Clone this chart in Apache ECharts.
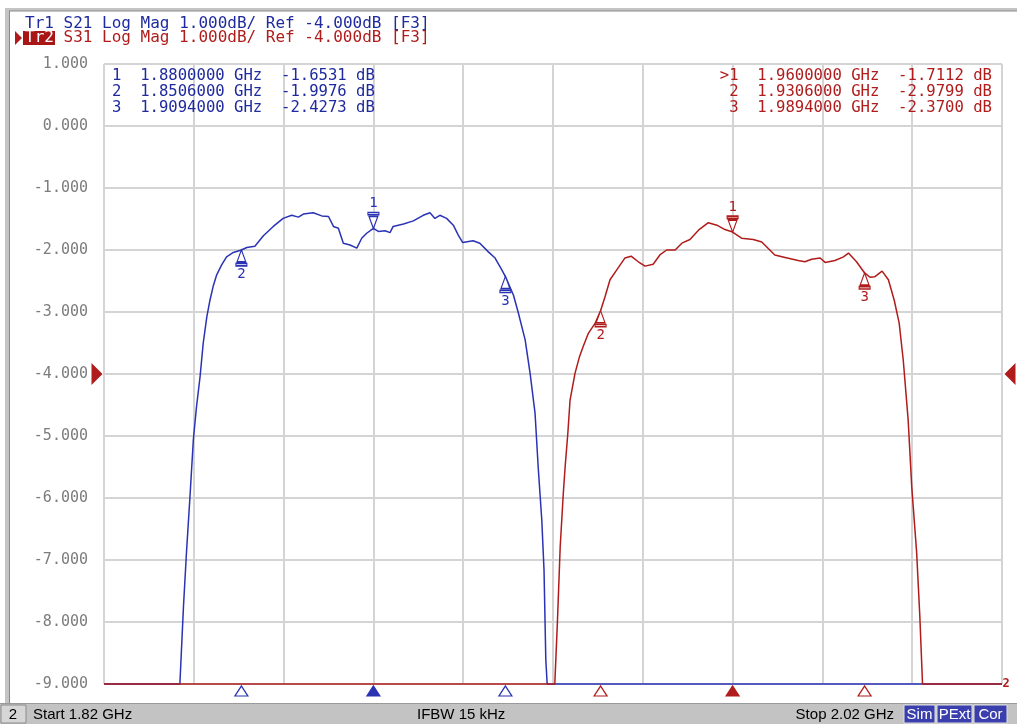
<!DOCTYPE html>
<html>
<head>
<meta charset="utf-8">
<title>S21 / S31 Log Mag</title>
<script src="https://cdn.jsdelivr.net/npm/echarts@6/dist/echarts.min.js"></script>
<style>
html, body { margin: 0; padding: 0; background: #fff; }
#chart { width: 1017px; height: 724px; }
</style>
</head>
<body>
<div id="chart"></div>
<script>
// sweep + scale
var startGHz = 1.82;
var stopGHz = 2.02;
var refLevel = -4;
var yTicks = [1, 0, -1, -2, -3, -4, -5, -6, -7, -8, -9];

// Tr1 S21 (values below -9 dB sit on the bottom edge, as the analyzer draws them)
var s21Freq = [1.8200, 1.8369, 1.8377, 1.8384, 1.8392, 1.8399, 1.8406, 1.8414, 1.8421, 1.8429, 1.8436,
  1.8443, 1.8451, 1.8462, 1.8473, 1.8488, 1.8506, 1.8518, 1.8536, 1.8555, 1.8577, 1.8599, 1.8618,
  1.8633, 1.8644, 1.8666, 1.8685, 1.8700, 1.8711, 1.8722, 1.8733, 1.8748, 1.8763, 1.8774, 1.8785,
  1.8800, 1.8811, 1.8826, 1.8837, 1.8844, 1.8867, 1.8889, 1.8911, 1.8926, 1.8937, 1.8948, 1.8963,
  1.8978, 1.8989, 1.8999, 1.9022, 1.9037, 1.9056, 1.9071, 1.9086, 1.9094, 1.9112, 1.9123, 1.9138,
  1.9149, 1.9160, 1.9167, 1.9175, 1.9180, 1.9184, 1.9187, 2.0200];
var s21Db = [-9, -9, -7.75, -6.84, -5.92, -5.06, -4.53, -4.04, -3.50, -3.08, -2.81,
  -2.59, -2.40, -2.24, -2.11, -2.04, -2.00, -1.96, -1.94, -1.77, -1.62, -1.49, -1.44,
  -1.47, -1.42, -1.40, -1.45, -1.46, -1.62, -1.65, -1.89, -1.92, -1.97, -1.81, -1.73,
  -1.65, -1.70, -1.69, -1.72, -1.62, -1.58, -1.53, -1.44, -1.40, -1.49, -1.44, -1.49,
  -1.60, -1.76, -1.88, -1.85, -1.89, -2.03, -2.13, -2.32, -2.43, -2.73, -3.02, -3.45,
  -3.99, -4.63, -5.50, -6.35, -7.16, -8.61, -9, -9];

// Tr2 S31
var s31Freq = [1.8200, 1.9204, 1.9210, 1.9216, 1.9223, 1.9227, 1.9233, 1.9238, 1.9249, 1.9259, 1.9267,
  1.9279, 1.9294, 1.9306, 1.9316, 1.9327, 1.9342, 1.9360, 1.9374, 1.9390, 1.9405, 1.9423, 1.9438,
  1.9453, 1.9472, 1.9487, 1.9505, 1.9524, 1.9546, 1.9565, 1.9583, 1.9600, 1.9620, 1.9646, 1.9665,
  1.9694, 1.9717, 1.9746, 1.9761, 1.9776, 1.9795, 1.9806, 1.9828, 1.9847, 1.9858, 1.9876, 1.9894,
  1.9906, 1.9917, 1.9933, 1.9947, 1.9960, 1.9971, 1.9980, 1.9991, 1.9999, 2.0010, 2.0017, 2.0023,
  2.0200];
var s31Db = [-9, -9, -7.97, -6.79, -5.92, -5.50, -4.96, -4.42, -3.99, -3.72, -3.56,
  -3.34, -3.18, -2.98, -2.75, -2.48, -2.32, -2.13, -2.10, -2.19, -2.26, -2.23, -2.08,
  -2.00, -2.00, -1.89, -1.83, -1.68, -1.56, -1.60, -1.67, -1.71, -1.81, -1.83, -1.87,
  -2.08, -2.12, -2.17, -2.19, -2.15, -2.13, -2.20, -2.17, -2.11, -2.05, -2.19, -2.37,
  -2.44, -2.43, -2.34, -2.48, -2.81, -3.18, -3.77, -4.74, -5.82, -6.89, -7.91, -9,
  -9];

// marker readouts
var s21MarkerFreq = [1.8800000, 1.8506000, 1.9094000];
var s21MarkerDb = [-1.6531, -1.9976, -2.4273];
var s31MarkerFreq = [1.9600000, 1.9306000, 1.9894000];
var s31MarkerDb = [-1.7112, -2.9799, -2.3700];

var blue = '#2a33b4';
var blueText = '#1f2a9e';
var red = '#b01c1c';
var mono = '"DejaVu Sans Mono", "Liberation Mono", monospace';
var narrow = '"Liberation Sans Narrow", "Arial Narrow", "Liberation Sans", sans-serif';

var downMark = 'path://M0,0H10V2H0Z M1,3.5H9L5,14Z';
var upMark = 'path://M5,0L9,10.5H1Z M0,12H10V14H0Z';

function zip(xs, ys) {
  var out = [];
  for (var i = 0; i < xs.length; i++) out.push([xs[i], ys[i]]);
  return out;
}

function markerPoints(freqs, dbs, color) {
  var pts = [];
  for (var i = 0; i < freqs.length; i++) {
    var first = (i === 0);
    pts.push({
      coord: [freqs[i], dbs[i]],
      symbol: first ? downMark : upMark,
      symbolSize: [11, 16],
      symbolOffset: first ? [0, -8] : [0, 8],
      itemStyle: { color: '#fff', borderColor: color, borderWidth: 1.3 },
      label: {
        show: true, position: first ? 'top' : 'bottom', distance: 1,
        formatter: String(i + 1), color: color, fontSize: 14, fontFamily: mono
      }
    });
    // stimulus marker under the axis
    pts.push({
      coord: [freqs[i], yTicks[yTicks.length - 1]],
      symbol: 'triangle',
      symbolSize: [13, 10],
      symbolOffset: [0, 7],
      itemStyle: { color: first ? color : '#fff', borderColor: color, borderWidth: 1.2 },
      label: { show: false }
    });
  }
  return pts;
}

function tableLine(idx, f, db, active, lead) {
  var prefix = lead ? (active ? '>' : ' ') : '';
  return prefix + (idx + 1) + '  ' + f.toFixed(7) + ' GHz  ' + db.toFixed(4) + ' dB';
}

var graphics = [];

// window frame
graphics.push({ type: 'rect', shape: { x: 5, y: 8, width: 1030, height: 3 }, style: { fill: '#c4c4c4' }, silent: true });
graphics.push({ type: 'rect', shape: { x: 5, y: 8, width: 4, height: 696 }, style: { fill: '#c4c4c4' }, silent: true });
graphics.push({ type: 'line', shape: { x1: 9, y1: 11, x2: 1017, y2: 11 }, style: { stroke: '#8a8a8a', lineWidth: 1 }, silent: true });
graphics.push({ type: 'line', shape: { x1: 9.5, y1: 11, x2: 9.5, y2: 703 }, style: { stroke: '#8a8a8a', lineWidth: 1 }, silent: true });

// trace header
graphics.push({ type: 'text', x: 25, y: 24, style: { text: 'Tr1 S21 Log Mag 1.000dB/ Ref -4.000dB [F3]', fill: blueText, font: '16px ' + mono, align: 'left', verticalAlign: 'middle' } });
graphics.push({ type: 'polygon', shape: { points: [[15, 31], [22, 38], [15, 45]] }, style: { fill: red } });
graphics.push({ type: 'rect', shape: { x: 23, y: 31, width: 32, height: 14 }, style: { fill: '#a81616' } });
graphics.push({ type: 'text', x: 25, y: 38, style: { text: 'Tr2', fill: '#fff', font: '16px ' + mono, align: 'left', verticalAlign: 'middle' } });
graphics.push({ type: 'text', x: 25 + 4 * 9.63, y: 38, style: { text: 'S31 Log Mag 1.000dB/ Ref -4.000dB [F3]', fill: red, font: '16px ' + mono, align: 'left', verticalAlign: 'middle' } });

// marker tables
for (var i = 0; i < 3; i++) {
  graphics.push({ type: 'text', x: 112, y: 76 + i * 16, z: 10,
    style: { text: tableLine(i, s21MarkerFreq[i], s21MarkerDb[i], false, false), fill: blueText, font: '15.6px ' + mono, align: 'left', verticalAlign: 'middle' } });
  graphics.push({ type: 'text', x: 992, y: 76 + i * 16, z: 10,
    style: { text: tableLine(i, s31MarkerFreq[i], s31MarkerDb[i], i === 0, true), fill: red, font: '15.6px ' + mono, align: 'right', verticalAlign: 'middle' } });
}

// status bar
graphics.push({ type: 'rect', shape: { x: 0, y: 703, width: 1017, height: 21 }, style: { fill: '#c3c3c3' }, silent: true });
graphics.push({ type: 'line', shape: { x1: 0, y1: 703.5, x2: 1017, y2: 703.5 }, style: { stroke: '#9a9a9a' }, silent: true });
graphics.push({ type: 'rect', shape: { x: 1, y: 705, width: 25, height: 18 }, style: { fill: '#d6d6d6', stroke: '#8c8c8c' } });
graphics.push({ type: 'text', x: 13, y: 715, style: { text: '2', fill: '#000', font: '15px ' + narrow, align: 'center', verticalAlign: 'middle' } });
graphics.push({ type: 'text', x: 33, y: 715, style: { text: 'Start ' + startGHz.toFixed(2) + ' GHz', fill: '#000', font: '15px ' + narrow, align: 'left', verticalAlign: 'middle' } });
graphics.push({ type: 'text', x: 417, y: 715, style: { text: 'IFBW 15 kHz', fill: '#000', font: '15px ' + narrow, align: 'left', verticalAlign: 'middle' } });
graphics.push({ type: 'text', x: 894, y: 715, style: { text: 'Stop ' + stopGHz.toFixed(2) + ' GHz', fill: '#000', font: '15px ' + narrow, align: 'right', verticalAlign: 'middle' } });
var flags = [['Sim', 904, 31], ['PExt', 937, 35], ['Cor', 974, 33]];
for (var j = 0; j < flags.length; j++) {
  graphics.push({ type: 'rect', shape: { x: flags[j][1], y: 705, width: flags[j][2], height: 18 }, style: { fill: '#3b3fae', stroke: '#e0e0e0' } });
  graphics.push({ type: 'text', x: flags[j][1] + flags[j][2] / 2, y: 714.5, style: { text: flags[j][0], fill: '#fff', font: '15px ' + narrow, align: 'center', verticalAlign: 'middle' } });
}

var chart = echarts.init(document.getElementById('chart'), null, { renderer: 'canvas' });

var redMarks = markerPoints(s31MarkerFreq, s31MarkerDb, red);
// reference level arrows for the active trace
redMarks.push({ coord: [startGHz, refLevel], symbol: 'triangle', symbolRotate: -90, symbolSize: [22, 11],
  symbolOffset: [-7, 0], itemStyle: { color: red }, label: { show: false } });
redMarks.push({ coord: [stopGHz, refLevel], symbol: 'triangle', symbolRotate: 90, symbolSize: [22, 11],
  symbolOffset: [8, 0], itemStyle: { color: red }, label: { show: false } });
redMarks.push({ coord: [stopGHz, yTicks[yTicks.length - 1]], symbol: 'circle', symbolSize: 1,
  itemStyle: { color: 'transparent' },
  label: { show: true, position: 'right', distance: 0, formatter: '2', color: red, fontSize: 12, fontWeight: 'bold', fontFamily: mono } });

var option = {
  animation: false,
  backgroundColor: '#fff',
  graphic: graphics,
  grid: {
    left: 104, top: 64, width: 898, height: 620,
    show: true, borderColor: '#9a9a9a', borderWidth: 1, backgroundColor: '#fff'
  },
  xAxis: {
    type: 'value', min: startGHz, max: stopGHz, interval: 0.02,
    axisLine: { show: false }, axisTick: { show: false }, axisLabel: { show: false },
    splitLine: { show: true, lineStyle: { color: '#d4d4d4', width: 2 } }
  },
  yAxis: {
    type: 'value', min: yTicks[yTicks.length - 1], max: yTicks[0], interval: 1,
    axisLine: { show: false }, axisTick: { show: false },
    axisLabel: {
      margin: 16, color: '#7c7c7c', fontSize: 15, fontFamily: mono,
      formatter: function (v) { return v.toFixed(3); }
    },
    splitLine: { show: true, lineStyle: { color: '#d4d4d4', width: 2 } }
  },
  series: [
    {
      name: 'S21', type: 'line', data: zip(s21Freq, s21Db),
      showSymbol: false, clip: false, z: 3,
      lineStyle: { color: blue, width: 1.5 },
      markPoint: { silent: true, animation: false, data: markerPoints(s21MarkerFreq, s21MarkerDb, blue) }
    },
    {
      name: 'S31', type: 'line', data: zip(s31Freq, s31Db),
      showSymbol: false, clip: false, z: 4,
      lineStyle: { color: red, width: 1.5 },
      markPoint: { silent: true, animation: false, data: redMarks }
    }
  ]
};

chart.setOption(option);
</script>
</body>
</html>
